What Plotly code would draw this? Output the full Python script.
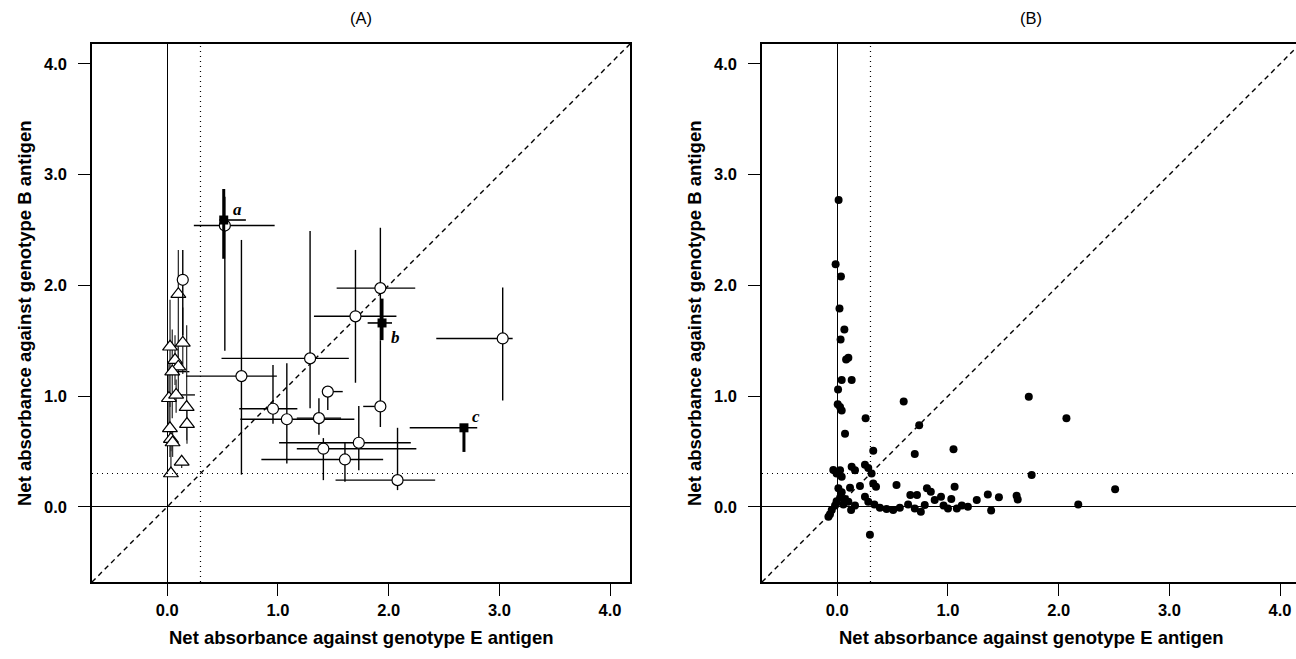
import plotly.graph_objects as go
import numpy as np

# ---------------- data ----------------
AX_RANGE = [-0.68, 4.18]
CUTOFF = 0.3
TICKS = [0, 1, 2, 3, 4]
TICK_LABELS = ["0.0", "1.0", "2.0", "3.0", "4.0"]

# Panel A: circles (value, lower/upper bounds of error bars)
circ_x   = [0.52, 0.14, 0.67, 1.29, 1.70, 1.925, 3.03, 1.45, 1.925, 0.955, 1.08, 1.37, 1.73, 1.41, 1.605, 2.08]
circ_y   = [2.54, 2.05, 1.18, 1.34, 1.72, 1.975, 1.52, 1.04, 0.906, 0.885, 0.79, 0.80, 0.578, 0.524, 0.427, 0.24]
circ_xlo = [0.24, 0.14, 0.17, 0.49, 1.325, 1.53, 2.43, 1.45, 1.77, 0.65, 0.66, 1.17, 1.01, 1.17, 0.85, 1.52]
circ_xhi = [0.97, 0.14, 0.99, 1.64, 2.07, 2.24, 3.12, 1.585, 1.925, 1.175, 1.69, 1.57, 2.20, 2.25, 1.95, 2.42]
circ_ylo = [1.41, 1.55, 0.29, 0.89, 1.12, 1.50, 0.96, 0.873, 0.72, 0.75, 0.39, 0.65, 0.33, 0.24, 0.226, 0.15]
circ_yhi = [2.80, 2.32, 2.41, 2.49, 2.32, 2.52, 1.98, 1.04, 1.50, 1.28, 1.295, 0.98, 0.91, 0.62, 0.578, 0.713]

# Panel A: triangles
tri_x   = [0.10, 0.14, 0.025, 0.07, 0.10, 0.045, 0.015, 0.08, 0.175, 0.178, 0.024, 0.033, 0.048, 0.13, 0.033]
tri_y   = [1.92, 1.48, 1.445, 1.325, 1.265, 1.22, 0.98, 1.01, 0.90, 0.747, 0.708, 0.61, 0.58, 0.406, 0.30]
tri_xlo = [0.10, 0.14, 0.025, 0.07, 0.10, 0.02, 0.015, 0.03, 0.175, 0.178, 0.024, 0.033, 0.048, 0.13, 0.033]
tri_xhi = [0.10, 0.14, 0.025, 0.07, 0.10, 0.20, 0.015, 0.25, 0.175, 0.178, 0.024, 0.033, 0.048, 0.13, 0.033]
tri_ylo = [1.30, 1.20, 0.90, 1.10, 1.00, 0.80, 0.70, 0.85, 0.60, 0.57, 0.45, 0.50, 0.45, 0.35, 0.28]
tri_yhi = [2.32, 1.80, 1.87, 1.55, 1.50, 1.60, 1.30, 1.15, 1.64, 0.90, 0.95, 0.70, 0.70, 0.45, 0.55]

# Panel A: labelled squares a, b, c
sq_lab = ["a", "b", "c"]
sq_x   = [0.51, 1.94, 2.68]
sq_y   = [2.59, 1.66, 0.713]
sq_xlo = [0.47, 1.81, 2.19]
sq_xhi = [0.71, 2.03, 2.80]
sq_ylo = [2.24, 1.505, 0.495]
sq_yhi = [2.87, 1.88, 0.74]

# Panel B: points
b_x = [0.012, -0.015, 0.033, 0.02, 0.064, 0.03, 0.08, 0.10, 0.04, 0.13, 0.007, 0.004, 0.025, 0.04,
       0.256, 0.60, 0.74, 0.07, 1.73, 2.07, 0.325, 1.05, 0.70,
       -0.036, -0.006, 0.04, 0.025, 0.13, 0.16, 0.25, 0.28, 0.31, 0.325, 0.35, 0.535, 0.115, 0.205,
       0.01, 0.04, 0.025, -0.006, 0.07, 0.055, -0.02, -0.05, -0.066, -0.08, 0.10, 0.16, 0.125,
       0.25, 0.28, 0.335, 0.385, 0.445, 0.505, 0.565, 0.64, 0.66, 0.72, 0.70, 0.755, 0.79, 0.81,
       0.845, 0.88, 0.937, 0.96, 1.0, 1.03, 1.06, 1.08, 1.125, 1.18, 1.26, 1.36, 1.39, 1.46,
       1.62, 1.63, 1.756, 2.51, 2.177, 0.295]
b_y = [2.77, 2.19, 2.08, 1.79, 1.60, 1.51, 1.33, 1.345, 1.145, 1.145, 1.06, 0.925, 0.90, 0.87,
       0.80, 0.95, 0.735, 0.66, 0.994, 0.80, 0.506, 0.52, 0.476,
       0.331, 0.30, 0.27, 0.33, 0.36, 0.33, 0.38, 0.35, 0.30, 0.21, 0.18, 0.196, 0.172, 0.187,
       0.166, 0.13, 0.08, 0.05, 0.07, 0.02, 0.01, -0.03, -0.069, -0.09, 0.045, 0.01, -0.03,
       0.09, 0.045, 0.02, -0.01, -0.02, -0.03, -0.01, 0.02, 0.106, 0.106, -0.015, -0.045, 0.015, 0.166,
       0.136, 0.06, 0.09, 0.01, -0.015, 0.07, 0.18, -0.015, 0.01, 0.0, 0.06, 0.11, -0.035, 0.085,
       0.10, 0.066, 0.286, 0.157, 0.02, -0.253]

XTITLE = "Net absorbance against genotype E antigen"
YTITLE = "Net absorbance against genotype B antigen"
PANEL_TITLES = ["(A)", "(B)"]

# ---------------- layout geometry ----------------
W, H = 1296, 659
PX_A = (92, 630)
PX_B = (762, 1300)
PY = (44, 582)
unit = (PX_A[1] - PX_A[0]) / (AX_RANGE[1] - AX_RANGE[0])
b_xmax = AX_RANGE[0] + (W - PX_B[0]) / unit
ydom = [1 - PY[1] / H, 1 - PY[0] / H]
xdomA = [PX_A[0] / W, PX_A[1] / W]
xdomB = [PX_B[0] / W, 1.0]

FONT = "Liberation Sans, Arial, sans-serif"


def err(vals, lo, hi):
    v = np.array(vals)
    return dict(type="data", symmetric=False, array=list(np.array(hi) - v),
                arrayminus=list(v - np.array(lo)), width=0, color="black")


fig = go.Figure()

# reference lines (diagonal) in both panels
for xa, ya in [("x", "y"), ("x2", "y2")]:
    fig.add_trace(go.Scatter(x=[AX_RANGE[0], AX_RANGE[1]], y=[AX_RANGE[0], AX_RANGE[1]],
                             mode="lines", xaxis=xa, yaxis=ya, showlegend=False, hoverinfo="skip",
                             line=dict(color="black", width=1.4, dash="5px,4px")))

# Panel A triangles
ex = err(tri_x, tri_xlo, tri_xhi); ex["thickness"] = 1.3
ey = err(tri_y, tri_ylo, tri_yhi); ey["thickness"] = 1.3; ey["color"] = "#333333"
fig.add_trace(go.Scatter(x=tri_x, y=tri_y, mode="markers", xaxis="x", yaxis="y", showlegend=False,
                         error_x=ex, error_y=ey,
                         marker=dict(symbol="triangle-up", size=13, color="white",
                                     line=dict(color="black", width=1.2))))

# Panel A circles
ex = err(circ_x, circ_xlo, circ_xhi); ex["thickness"] = 1.4
ey = err(circ_y, circ_ylo, circ_yhi); ey["thickness"] = 1.4
fig.add_trace(go.Scatter(x=circ_x, y=circ_y, mode="markers", xaxis="x", yaxis="y", showlegend=False,
                         error_x=ex, error_y=ey,
                         marker=dict(symbol="circle", size=11, color="white",
                                     line=dict(color="black", width=1.2))))

# Panel A squares
ex = err(sq_x, sq_xlo, sq_xhi); ex["thickness"] = 1.6
ey = err(sq_y, sq_ylo, sq_yhi); ey["thickness"] = 3
fig.add_trace(go.Scatter(x=sq_x, y=sq_y, mode="markers", xaxis="x", yaxis="y", showlegend=False,
                         error_x=ex, error_y=ey,
                         marker=dict(symbol="square", size=9, color="black")))

# Panel B points
fig.add_trace(go.Scatter(x=b_x, y=b_y, mode="markers", xaxis="x2", yaxis="y2", showlegend=False,
                         marker=dict(symbol="circle", size=8, color="black")))

# cutoff lines
shapes = []
for xr, yr in [("x", "y"), ("x2", "y2")]:
    shapes.append(dict(type="line", xref=xr, yref=f"{yr} domain", x0=CUTOFF, x1=CUTOFF, y0=0, y1=1,
                       line=dict(color="black", width=1.2, dash="1px,4px")))
    shapes.append(dict(type="line", xref=f"{xr} domain", yref=yr, x0=0, x1=1, y0=CUTOFF, y1=CUTOFF,
                       line=dict(color="black", width=1.2, dash="1px,4px")))

axis_common = dict(tickmode="array", tickvals=TICKS, ticktext=TICK_LABELS, ticks="outside",
                   ticklen=12, tickwidth=1.3, tickcolor="black", showgrid=False,
                   showline=True, linecolor="black", linewidth=1.5,
                   zeroline=True, zerolinecolor="black", zerolinewidth=1.3,
                   tickfont=dict(family=FONT, size=16.5, color="black", weight="bold"),
                   automargin=False, fixedrange=True)

fig.update_layout(
    width=W, height=H, margin=dict(l=0, r=0, t=0, b=0),
    paper_bgcolor="white", plot_bgcolor="white",
    xaxis=dict(domain=xdomA, range=AX_RANGE, anchor="y", mirror=True, **axis_common),
    yaxis=dict(domain=ydom, range=AX_RANGE, anchor="x", mirror=True, ticklabelstandoff=8, **axis_common),
    xaxis2=dict(domain=xdomB, range=[AX_RANGE[0], b_xmax], anchor="y2", mirror=True, **axis_common),
    yaxis2=dict(domain=ydom, range=AX_RANGE, anchor="x2", mirror=False, ticklabelstandoff=8, **axis_common),
    shapes=shapes,
)

ann = []
# square labels
shifts = {"a": (14, 11), "b": (13, -15), "c": (12, 11)}
for lab, xv, yv in zip(sq_lab, sq_x, sq_y):
    dx, dy = shifts[lab]
    ann.append(dict(x=xv, y=yv, xref="x", yref="y", text=f"<b><i>{lab}</i></b>", showarrow=False,
                    xshift=dx, yshift=dy, xanchor="center", yanchor="middle",
                    font=dict(family="Liberation Serif, Times New Roman, serif", size=17, color="black")))
# panel titles and axis titles
for i, (px, title) in enumerate(zip([PX_A, PX_B], PANEL_TITLES)):
    cx = (px[0] + px[1]) / 2 / W
    ann.append(dict(x=cx, y=1 - 18 / H, xref="paper", yref="paper", text=title, showarrow=False,
                    xanchor="center", yanchor="middle",
                    font=dict(family=FONT, size=16.5, color="black")))
    ann.append(dict(x=cx, y=1 - 637 / H, xref="paper", yref="paper", text=f"<b>{XTITLE}</b>",
                    showarrow=False, xanchor="center", yanchor="middle",
                    font=dict(family=FONT, size=18.5, color="black")))
    ax_x = (px[0] - 68) / W
    ann.append(dict(x=ax_x, y=(ydom[0] + ydom[1]) / 2, xref="paper", yref="paper",
                    text=f"<b>{YTITLE}</b>", textangle=-90, showarrow=False,
                    xanchor="center", yanchor="middle",
                    font=dict(family=FONT, size=18.5, color="black")))
fig.update_layout(annotations=ann)

fig.write_html("out.html", config={"displayModeBar": False},
               post_script="document.body.style.margin='0px';")
